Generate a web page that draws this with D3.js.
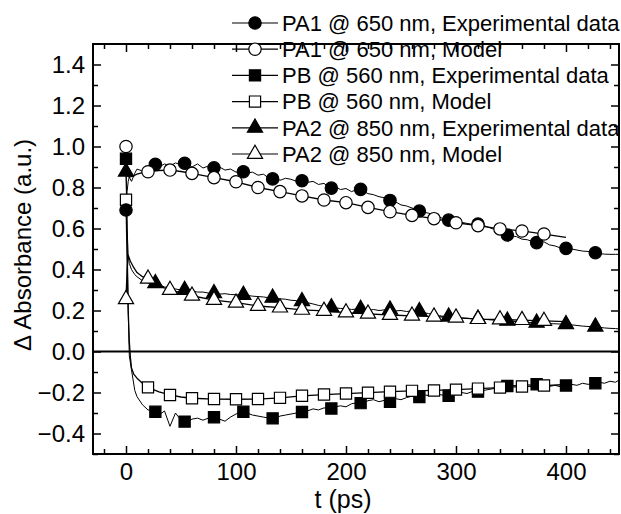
<!DOCTYPE html>
<html><head><meta charset="utf-8">
<script src="https://cdn.jsdelivr.net/npm/d3@7"></script>
<style>
body{margin:0;background:#fff}
svg{display:block}
text{font-family:"Liberation Sans",Arial,Helvetica,sans-serif;fill:#000}
</style>
</head><body>
<svg id="c" width="621" height="514"></svg>
<script>
// ---------------- DATA ----------------
const xTicks = [0, 100, 200, 300, 400];
const yTicks = [-0.4, -0.2, 0.0, 0.2, 0.4, 0.6, 0.8, 1.0, 1.2, 1.4];
const xLabel = "t (ps)";
const yLabel = "\u0394 Absorbance (a.u.)";

const seriesNames = [
  "PA1 @ 650 nm, Experimental data",
  "PA1 @ 650 nm, Model",
  "PB @ 560 nm, Experimental data",
  "PB @ 560 nm, Model",
  "PA2 @ 850 nm, Experimental data",
  "PA2 @ 850 nm, Model"
];

// marker times
const expMarkT = [0, 26.7, 53.3, 80, 106.7, 133.3, 160, 186.7, 213.3, 240, 266.7, 293.3, 320, 346.7, 373.3, 400, 426.7];
const modelMarkT = [0, 20, 40, 60, 80, 100, 120, 140, 160, 180, 200, 220, 240, 260, 280, 300, 320, 340, 360, 380];

// experimental markers
const pa1ExpMark = [0.69, 0.913, 0.918, 0.896, 0.877, 0.842, 0.833, 0.797, 0.791, 0.737, 0.685, 0.641, 0.622, 0.568, 0.531, 0.503, 0.482];
const pbExpMark  = [0.94, -0.294, -0.342, -0.321, -0.294, -0.326, -0.295, -0.278, -0.252, -0.245, -0.222, -0.216, -0.196, -0.168, -0.160, -0.166, -0.155];
const pa2ExpMark = [0.877, 0.333, 0.300, 0.284, 0.276, 0.262, 0.245, 0.215, 0.207, 0.204, 0.196, 0.170, 0.160, 0.150, 0.140, 0.133, 0.121];

// model markers
const pa1ModelMark = [1.00, 0.877, 0.885, 0.869, 0.848, 0.828, 0.800, 0.780, 0.759, 0.739, 0.726, 0.703, 0.682, 0.664, 0.648, 0.628, 0.614, 0.598, 0.588, 0.573];
const pbModelMark  = [0.74, -0.175, -0.212, -0.228, -0.232, -0.233, -0.232, -0.226, -0.216, -0.210, -0.205, -0.201, -0.196, -0.192, -0.190, -0.186, -0.181, -0.176, -0.171, -0.166];
const pa2ModelMark = [0.255, 0.355, 0.300, 0.272, 0.251, 0.238, 0.222, 0.214, 0.203, 0.198, 0.190, 0.184, 0.178, 0.174, 0.170, 0.165, 0.158, 0.156, 0.153, 0.149];

// experimental traces (raw, noisy)
const expTraceT = [0, 1, 2, 3, 5, 8, 10, 15, 20, 25, 30, 35, 40, 45, 50, 55, 60, 65, 70, 75, 80, 85, 90, 95, 100,
  105, 110, 115, 120, 125, 130, 135, 140, 145, 150, 155, 160, 165, 170, 175, 180, 185, 190, 195, 200,
  205, 210, 215, 220, 225, 230, 235, 240, 245, 250, 255, 260, 265, 270, 275, 280, 285, 290, 295, 300,
  305, 310, 315, 320, 325, 330, 335, 340, 345, 350, 355, 360, 365, 370, 375, 380, 385, 390, 395, 400,
  405, 410, 415, 420, 425, 430, 435, 440, 445, 448];
const pa1ExpTrace = [0.69, 0.78, 0.83, 0.85, 0.83, 0.87, 0.89, 0.88, 0.905, 0.915, 0.90, 0.915, 0.905, 0.92, 0.91, 0.92, 0.90, 0.915, 0.895, 0.905,
  0.895, 0.90, 0.885, 0.89, 0.875, 0.88, 0.87, 0.875, 0.86, 0.865, 0.845, 0.85, 0.835, 0.845, 0.84, 0.83, 0.835, 0.825, 0.83, 0.815,
  0.82, 0.80, 0.805, 0.79, 0.795, 0.78, 0.79, 0.785, 0.77, 0.765, 0.755, 0.75, 0.738, 0.73, 0.715, 0.71, 0.70, 0.69, 0.68, 0.675,
  0.665, 0.655, 0.645, 0.64, 0.635, 0.63, 0.625, 0.62, 0.622, 0.615, 0.605, 0.595, 0.585, 0.57, 0.565, 0.56, 0.548, 0.545, 0.535, 0.53,
  0.535, 0.52, 0.515, 0.505, 0.503, 0.50, 0.495, 0.49, 0.488, 0.482, 0.478, 0.475, 0.474, 0.474, 0.474];
const pbExpTrace = [0.94, 0.60, 0.20, -0.02, -0.09, -0.19, -0.22, -0.26, -0.285, -0.29, -0.31, -0.29, -0.365, -0.30, -0.335, -0.345, -0.33, -0.325, -0.335, -0.325,
  -0.32, -0.33, -0.34, -0.32, -0.305, -0.295, -0.30, -0.31, -0.315, -0.32, -0.325, -0.33, -0.315, -0.31, -0.305, -0.30, -0.295, -0.29, -0.28, -0.285,
  -0.275, -0.278, -0.27, -0.265, -0.27, -0.255, -0.25, -0.252, -0.24, -0.235, -0.245, -0.238, -0.245, -0.23, -0.235, -0.225, -0.218, -0.222, -0.21, -0.215,
  -0.205, -0.21, -0.215, -0.212, -0.205, -0.20, -0.205, -0.195, -0.196, -0.19, -0.185, -0.18, -0.175, -0.171, -0.168, -0.165, -0.17, -0.162, -0.165, -0.163,
  -0.16, -0.17, -0.165, -0.172, -0.168, -0.16, -0.165, -0.155, -0.16, -0.158, -0.15, -0.155, -0.145, -0.15, -0.14];
const pa2ExpTrace = [0.877, 0.60, 0.47, 0.43, 0.40, 0.375, 0.365, 0.345, 0.335, 0.333, 0.325, 0.315, 0.31, 0.305, 0.30, 0.30, 0.295, 0.29, 0.29, 0.285,
  0.284, 0.28, 0.282, 0.278, 0.277, 0.276, 0.274, 0.27, 0.268, 0.266, 0.262, 0.26, 0.257, 0.255, 0.25, 0.248, 0.245, 0.238, 0.232, 0.225,
  0.22, 0.215, 0.213, 0.21, 0.21, 0.205, 0.207, 0.205, 0.20, 0.205, 0.20, 0.203, 0.204, 0.198, 0.20, 0.195, 0.198, 0.196, 0.19, 0.185,
  0.18, 0.175, 0.17, 0.168, 0.166, 0.163, 0.162, 0.16, 0.16, 0.157, 0.155, 0.153, 0.152, 0.15, 0.148, 0.146, 0.145, 0.143, 0.14, 0.139,
  0.138, 0.136, 0.135, 0.134, 0.133, 0.13, 0.127, 0.124, 0.122, 0.121, 0.118, 0.115, 0.113, 0.112, 0.11];

// model curves (smooth)
const pa1ModelT = [0, 1, 3, 6, 10, 15, 20, 30, 40, 50, 60, 80, 100, 120, 140, 160, 180, 200, 220, 240, 260, 280, 300, 320, 340, 360, 380, 400];
const pa1ModelV = [1.00, 0.86, 0.85, 0.855, 0.865, 0.873, 0.877, 0.883, 0.885, 0.878, 0.869, 0.848, 0.828, 0.800, 0.780, 0.759, 0.739, 0.726, 0.703, 0.682, 0.664, 0.648, 0.628, 0.614, 0.598, 0.588, 0.573, 0.557];
const pbModelT = [0, 1, 2, 3, 4, 5, 7, 10, 15, 20, 30, 40, 50, 60, 80, 100, 120, 140, 160, 180, 200, 220, 240, 260, 280, 300, 320, 340, 360, 380, 400];
const pbModelV = [0.74, 0.45, 0.20, 0.05, -0.03, -0.08, -0.11, -0.13, -0.155, -0.175, -0.197, -0.212, -0.222, -0.228, -0.232, -0.233, -0.232, -0.226, -0.216, -0.210, -0.205, -0.201, -0.196, -0.192, -0.190, -0.186, -0.181, -0.176, -0.171, -0.166, -0.161];
const pa2ModelT = [0, 1, 2, 4, 7, 10, 15, 20, 30, 40, 60, 80, 100, 120, 140, 160, 180, 200, 220, 240, 260, 280, 300, 320, 340, 360, 380, 400];
const pa2ModelV = [0.255, 0.40, 0.47, 0.44, 0.41, 0.385, 0.365, 0.355, 0.32, 0.300, 0.272, 0.251, 0.238, 0.222, 0.214, 0.203, 0.198, 0.190, 0.184, 0.178, 0.174, 0.170, 0.165, 0.158, 0.156, 0.153, 0.149, 0.146];

// ---------------- CHART ----------------
const svg = d3.select("#c");
const L = 93, R = 619, T = 44, B = 454;
const x = d3.scaleLinear().domain([-30, 448.2]).range([L, R]);
const y = d3.scaleLinear().domain([-0.5, 1.5]).range([B, T]);

const fontTick = 24;
const xMinor = [-20, 20, 40, 60, 80, 120, 140, 160, 180, 220, 240, 260, 280, 320, 340, 360, 380, 420, 440];
const yMinor = [-0.5, -0.3, -0.1, 0.1, 0.3, 0.5, 0.7, 0.9, 1.1, 1.3];

function styleAxis(g) {
  g.select(".domain").remove();
  g.selectAll(".tick line").attr("stroke", "#000").attr("stroke-width", 1.5);
  g.selectAll(".tick text").style("font-size", fontTick + "px").attr("fill", "#000");
}
// bottom
svg.append("g").attr("transform", `translate(0,${B})`)
  .call(d3.axisBottom(x).tickValues(xTicks).tickSize(-8).tickPadding(9).tickFormat(d3.format("d")))
  .call(styleAxis);
svg.append("g").attr("transform", `translate(0,${B})`)
  .call(d3.axisBottom(x).tickValues(xMinor).tickSize(-5).tickFormat(""))
  .call(styleAxis);
// top
svg.append("g").attr("transform", `translate(0,${T})`)
  .call(d3.axisTop(x).tickValues(xTicks).tickSize(-8).tickFormat(""))
  .call(styleAxis);
svg.append("g").attr("transform", `translate(0,${T})`)
  .call(d3.axisTop(x).tickValues(xMinor).tickSize(-5).tickFormat(""))
  .call(styleAxis);
// left
svg.append("g").attr("transform", `translate(${L},0)`)
  .call(d3.axisLeft(y).tickValues(yTicks).tickSize(-8).tickPadding(8).tickFormat(d3.format(".1f")))
  .call(styleAxis);
svg.append("g").attr("transform", `translate(${L},0)`)
  .call(d3.axisLeft(y).tickValues(yMinor).tickSize(-5).tickFormat(""))
  .call(styleAxis);
// right
svg.append("g").attr("transform", `translate(${R},0)`)
  .call(d3.axisRight(y).tickValues(yTicks).tickSize(-8).tickFormat(""))
  .call(styleAxis);
svg.append("g").attr("transform", `translate(${R},0)`)
  .call(d3.axisRight(y).tickValues(yMinor).tickSize(-5).tickFormat(""))
  .call(styleAxis);

// zero line
svg.append("line").attr("x1", L).attr("x2", R).attr("y1", y(0)).attr("y2", y(0))
  .attr("stroke", "#000").attr("stroke-width", 2);

// frame
svg.append("rect").attr("x", L).attr("y", T).attr("width", R - L).attr("height", B - T)
  .attr("fill", "none").attr("stroke", "#000").attr("stroke-width", 2);

// axis titles
svg.append("text").attr("x", 343).attr("y", 508).attr("text-anchor", "middle")
  .style("font-size", "25px").text(xLabel);
svg.append("text").attr("transform", "translate(31,245) rotate(-90)").attr("text-anchor", "middle")
  .style("font-size", "24px").text(yLabel);

svg.append("clipPath").attr("id", "pc").append("rect")
  .attr("x", L).attr("y", T).attr("width", R - L).attr("height", B - T);
const plot = svg.append("g").attr("clip-path", "url(#pc)");

const line = d3.line().x(d => x(d[0])).y(d => y(d[1]));
const zip = (t, v) => t.map((tt, i) => [tt, v[i]]);

// lines
[[expTraceT, pa1ExpTrace, 1], [expTraceT, pbExpTrace, 1], [expTraceT, pa2ExpTrace, 1],
 [pa1ModelT, pa1ModelV, 1.3], [pbModelT, pbModelV, 1.3], [pa2ModelT, pa2ModelV, 1.3]].forEach(([t, v, w]) => {
  plot.append("path").attr("d", line(zip(t, v))).attr("fill", "none")
    .attr("stroke", "#000").attr("stroke-width", w).attr("stroke-linejoin", "round");
});

const symCircle = d3.symbol().type(d3.symbolCircle).size(120);
const symSquare = d3.symbol().type(d3.symbolSquare).size(125);
const symTri = d3.symbol().type(d3.symbolTriangle).size(100);

function drawMarkers(t, v, sym, filled) {
  plot.append("g").selectAll("path").data(zip(t, v)).join("path")
    .attr("transform", d => `translate(${x(d[0])},${y(d[1])})`)
    .attr("d", sym())
    .attr("fill", filled ? "#000" : "#fff")
    .attr("stroke", "#000").attr("stroke-width", 1.2);
}
drawMarkers(expMarkT, pa2ExpMark, symTri, true);
drawMarkers(modelMarkT, pa2ModelMark, symTri, false);
drawMarkers(expMarkT, pbExpMark, symSquare, true);
drawMarkers(modelMarkT, pbModelMark, symSquare, false);
drawMarkers(expMarkT, pa1ExpMark, symCircle, true);
drawMarkers(modelMarkT, pa1ModelMark, symCircle, false);

// legend
const legSyms = [[symCircle, true], [symCircle, false], [symSquare, true], [symSquare, false], [symTri, true], [symTri, false]];
const leg = svg.append("g");
seriesNames.forEach((name, i) => {
  const cy = 23 + i * 26.2;
  leg.append("line").attr("x1", 232).attr("x2", 278).attr("y1", cy).attr("y2", cy)
    .attr("stroke", "#000").attr("stroke-width", 1.2);
  leg.append("path").attr("transform", `translate(255,${cy})`).attr("d", legSyms[i][0]())
    .attr("fill", legSyms[i][1] ? "#000" : "#fff").attr("stroke", "#000").attr("stroke-width", 1.2);
  leg.append("text").attr("x", 282).attr("y", cy + 7.8).style("font-size", "22px").text(name);
});
</script>
</body></html>
